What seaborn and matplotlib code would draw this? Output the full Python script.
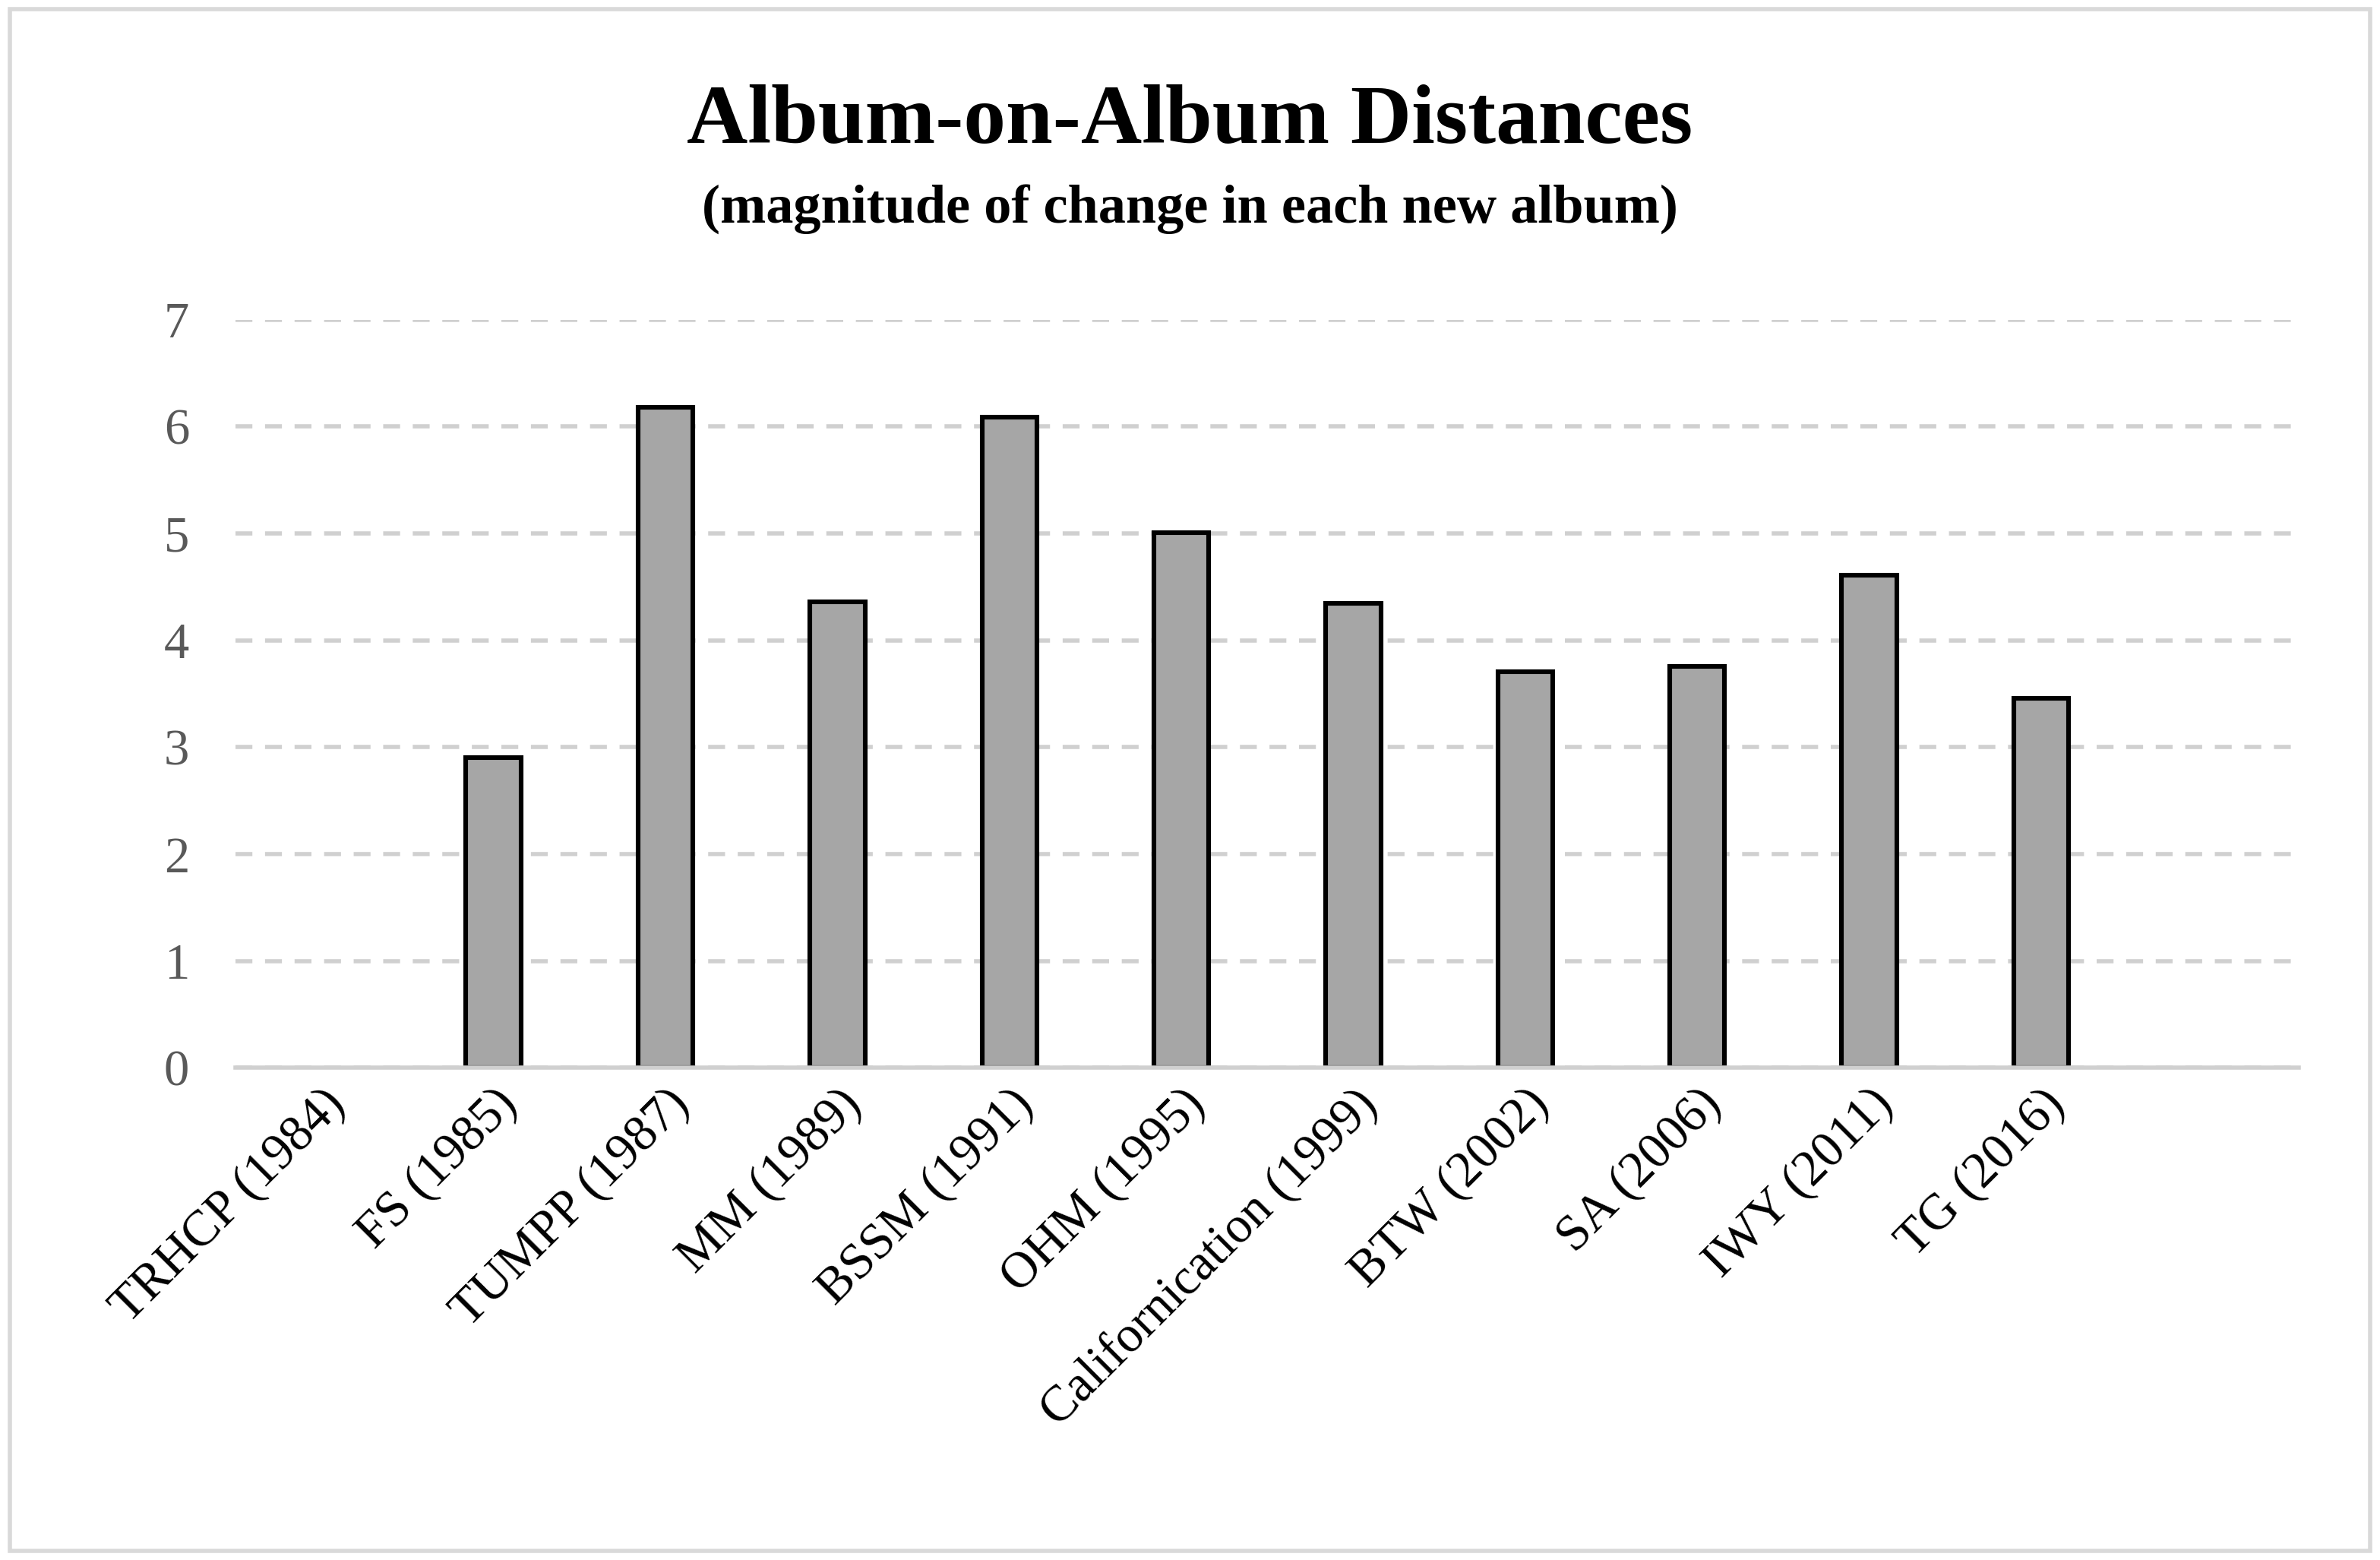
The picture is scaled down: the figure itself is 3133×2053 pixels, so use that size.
import numpy as np
import pandas as pd
import matplotlib
matplotlib.use("Agg")
import matplotlib.pyplot as plt
import seaborn as sns

albums = ["TRHCP (1984)", "FS (1985)", "TUMPP (1987)", "MM (1989)", "BSSM (1991)",
          "OHM (1995)", "Californication (1999)", "BTW (2002)", "SA (2006)",
          "IWY (2011)", "TG (2016)", " "]
distances = [np.nan, 2.90, 6.18, 4.36, 6.09, 5.01, 4.35, 3.71, 3.76, 4.61, 3.46, np.nan]

df = pd.DataFrame({"album": albums, "distance": distances})

sns.set_style("white")
plt.rcParams["font.family"] = ["Liberation Serif", "DejaVu Serif"]
plt.rcParams["text.color"] = "black"

fig = plt.figure(figsize=(15.665, 10.265), dpi=200)
ax = fig.add_axes([0.099, 0.3155, 0.867, 0.4795])

sns.barplot(data=df, x="album", y="distance", color="#a6a6a6", edgecolor="black",
            linewidth=2.2, width=0.32, saturation=1, ax=ax, zorder=3)

ax.set_ylim(0, 7)
ax.set_xlim(-0.5, 11.5)
ax.set_yticks(range(8))
ax.yaxis.grid(True, linestyle=(0, (4, 3)), color="#d0d0d0", linewidth=2, zorder=0)
ax.tick_params(axis="y", labelsize=24, labelcolor="#595959", length=0, pad=22)
ax.tick_params(axis="x", labelsize=24, labelcolor="black", length=0, pad=6)
plt.setp(ax.get_xticklabels(), rotation=45, ha="right", rotation_mode="anchor")
ax.set_xlabel("")
ax.set_ylabel("")
for s in ["top", "right", "left"]:
    ax.spines[s].set_visible(False)
ax.spines["bottom"].set_color("#d0d0d0")
ax.spines["bottom"].set_linewidth(2)
ax.spines["bottom"].set_zorder(4)

fig.text(0.5, 0.922, "Album-on-Album Distances", ha="center", va="center",
         fontsize=40, fontweight="bold", color="black")
fig.text(0.5, 0.866, "(magnitude of change in each new album)", ha="center",
         va="center", fontsize=26, fontweight="bold", color="black")

fig.patches.append(plt.Rectangle((0.004, 0.006), 0.992, 0.988, transform=fig.transFigure,
                                 fill=False, edgecolor="#d9d9d9", linewidth=2))

fig.savefig("out.png", dpi=200)
